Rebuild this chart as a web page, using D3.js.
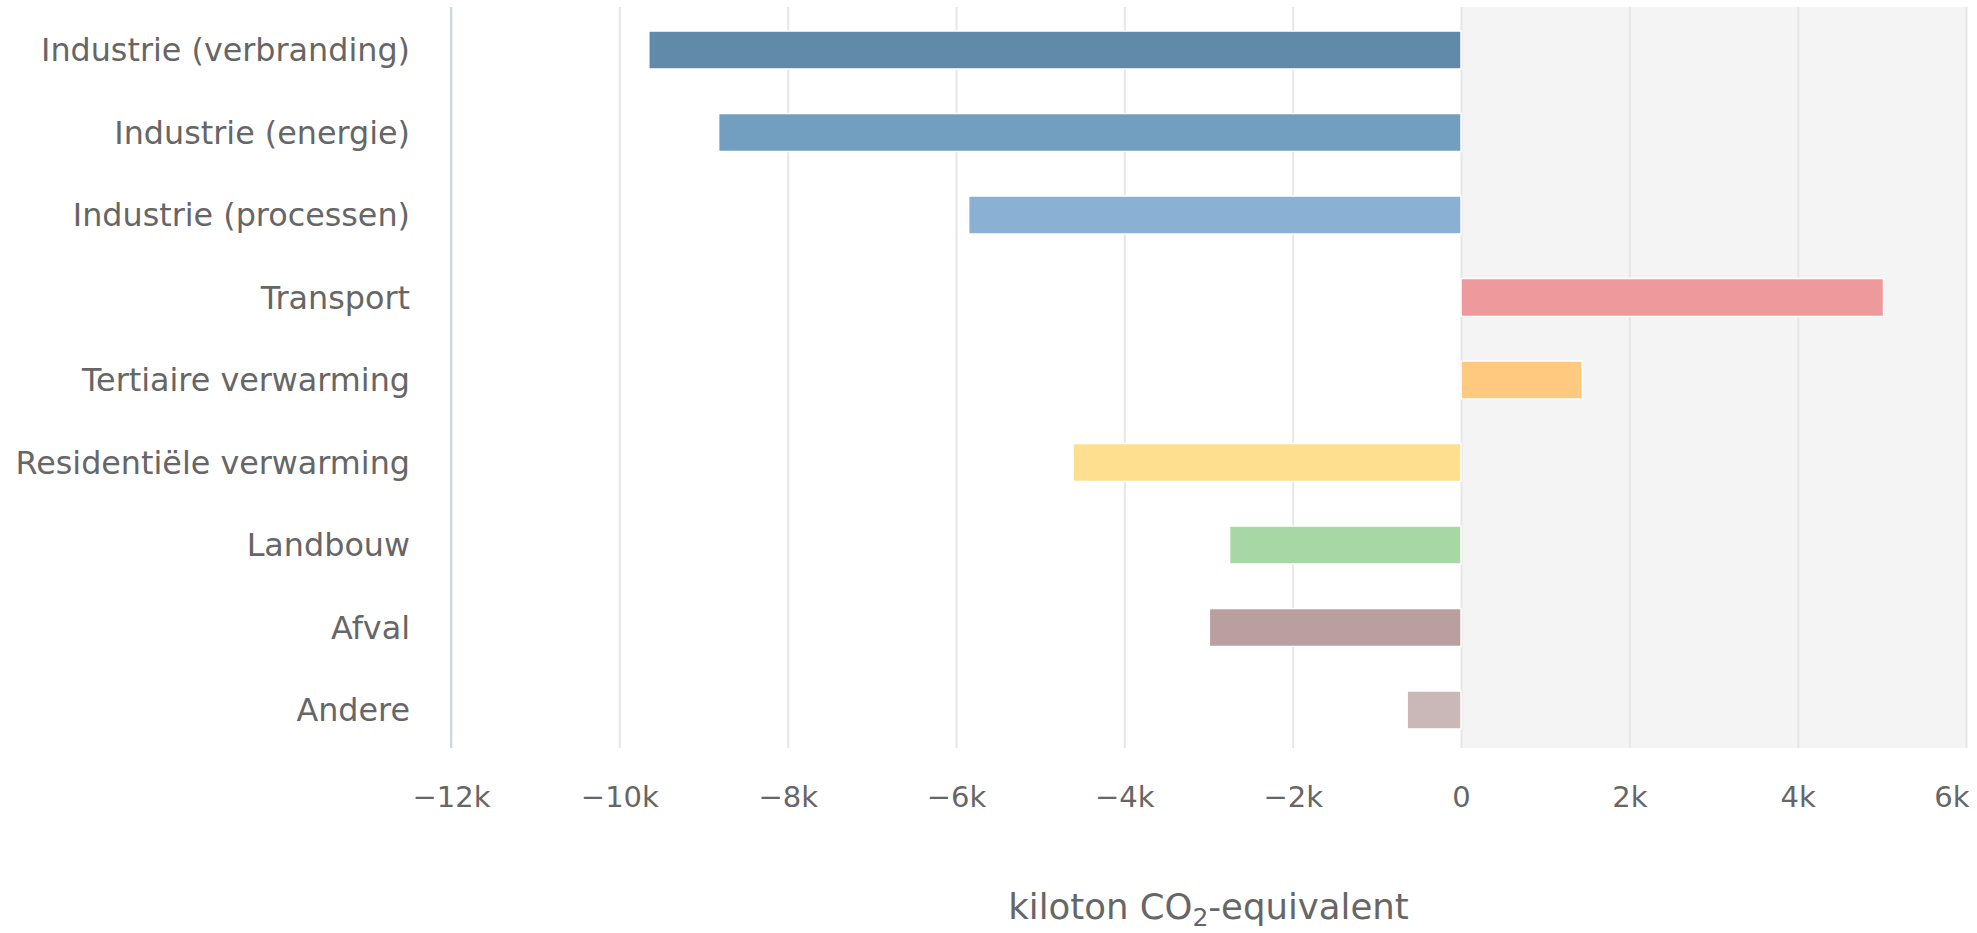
<!DOCTYPE html>
<html>
<head>
<meta charset="utf-8">
<script src="https://cdn.jsdelivr.net/npm/d3@7"></script>
<style>
  html, body { margin: 0; padding: 0; background: #ffffff; }
  svg { display: block; }
  text { font-family: "DejaVu Sans", Verdana, sans-serif; fill: #666666; }
</style>
</head>
<body>
<svg id="chart" width="1977" height="933"></svg>
<script>
const categories = [
  "Industrie (verbranding)",
  "Industrie (energie)",
  "Industrie (processen)",
  "Transport",
  "Tertiaire verwarming",
  "Residentiële verwarming",
  "Landbouw",
  "Afval",
  "Andere"
];
const values = [-9650, -8820, -5850, 5020, 1440, -4610, -2750, -2990, -640];
const colors = ["#6189a8", "#729ebf", "#8ab0d3", "#ee9a9c", "#ffca80", "#fedf90", "#a7d7a5", "#ba9fa0", "#cab8b8"];
const tickValues = [-12000, -10000, -8000, -6000, -4000, -2000, 0, 2000, 4000, 6000];
const axisTitle = ["kiloton CO", "2", "-equivalent"];

(function () {
const svg = d3.select("#chart");
const pLeft = 451, pRight = 1966, pTop = 7, pBottom = 748;

const x = d3.scaleLinear().domain([-12000, 6000]).range([pLeft, pRight]);
const y = d3.scaleBand().domain(categories).range([8.75, 751.25]).paddingInner(0.54).paddingOuter(0.27);

svg.append("rect")
  .attr("x", x(0)).attr("y", pTop)
  .attr("width", x(6000) - x(0)).attr("height", pBottom - pTop)
  .attr("fill", "#f4f4f4");

const fmt = v => v === 0 ? "0" : (v < 0 ? "\u2212" : "") + Math.abs(v / 1000) + "k";
const grid = svg.append("g")
  .attr("transform", `translate(0,${pBottom})`)
  .call(d3.axisBottom(x).tickValues(tickValues).tickSize(-(pBottom - pTop)).tickFormat(""));
grid.select(".domain").remove();
grid.selectAll(".tick line").attr("stroke", "#e6e6e6").attr("stroke-width", 2);

svg.append("line")
  .attr("x1", pLeft).attr("x2", pLeft)
  .attr("y1", pTop).attr("y2", pBottom)
  .attr("stroke", "#ccd6eb").attr("stroke-width", 2);

svg.append("g").selectAll("rect")
  .data(values)
  .join("rect")
  .attr("x", d => x(Math.min(0, d)))
  .attr("y", (d, i) => y(categories[i]))
  .attr("width", d => Math.abs(x(d) - x(0)))
  .attr("height", y.bandwidth())
  .attr("fill", (d, i) => colors[i])
  .attr("stroke", "#ffffff")
  .attr("stroke-width", 1.5);

const xa = svg.append("g")
  .attr("transform", `translate(0,${pBottom})`)
  .call(d3.axisBottom(x).tickValues(tickValues).tickSize(0).tickPadding(0).tickFormat(fmt));
xa.select(".domain").remove();
xa.selectAll("text")
  .attr("y", 59)
  .attr("dy", null)
  .style("font-size", "29px")
  .style("font-family", "'DejaVu Sans', Verdana, sans-serif")
  .attr("fill", "#666666");
xa.selectAll(".tick").filter(d => d === tickValues[tickValues.length - 1])
  .select("text").attr("text-anchor", "end").attr("x", 1969 - x(tickValues[tickValues.length - 1]));

const ya = svg.append("g")
  .attr("transform", `translate(${pLeft},0)`)
  .call(d3.axisLeft(y).tickSize(0).tickPadding(41));
ya.select(".domain").remove();
ya.selectAll("text")
  .style("font-size", "31.8px")
  .style("font-family", "'DejaVu Sans', Verdana, sans-serif")
  .attr("fill", "#666666")
  .attr("dy", "0.35em");

const t = svg.append("text")
  .attr("x", (pLeft + pRight) / 2)
  .attr("y", 919)
  .attr("text-anchor", "middle")
  .style("font-size", "35.5px");
t.append("tspan").text(axisTitle[0]);
t.append("tspan").attr("dy", 7).style("font-size", "25px").text(axisTitle[1]);
t.append("tspan").attr("dy", -7).text(axisTitle[2]);
})();
</script>
</body>
</html>
